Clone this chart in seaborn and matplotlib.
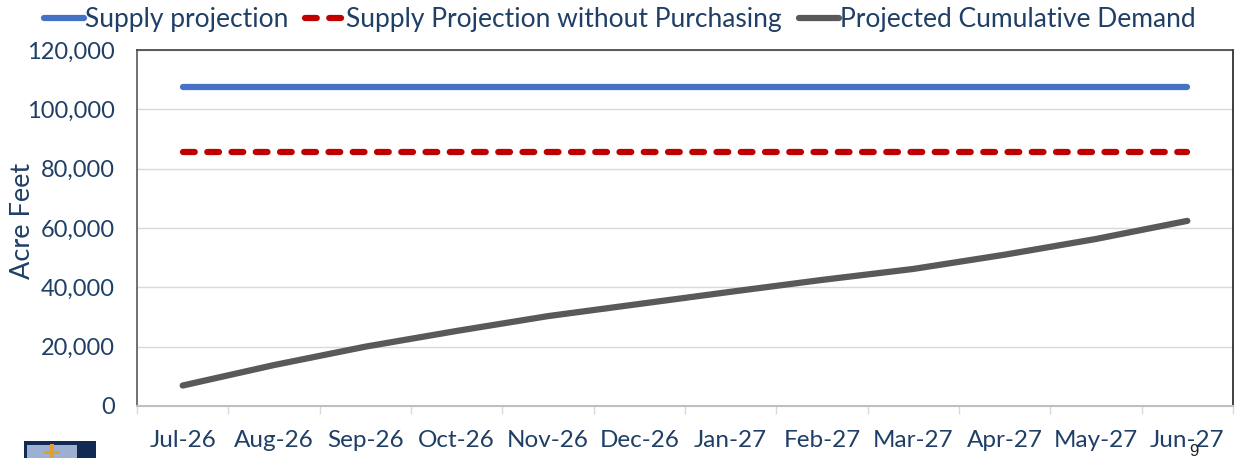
import numpy as np
import pandas as pd
import seaborn as sns
import matplotlib.pyplot as plt
from matplotlib.patches import Rectangle
from matplotlib.ticker import FuncFormatter

months = ["Jul-26", "Aug-26", "Sep-26", "Oct-26", "Nov-26", "Dec-26",
          "Jan-27", "Feb-27", "Mar-27", "Apr-27", "May-27", "Jun-27"]
supply = [107500] * 12
no_purchasing = [85700] * 12
demand = [6900, 13800, 20000, 25300, 30300, 34400,
          38500, 42500, 46200, 51000, 56300, 62400]

navy = "#1F3F66"

sns.set_theme(style="white")
plt.rcParams["font.family"] = ["Lato", "DejaVu Sans"]

df = pd.DataFrame({
    "month": months,
    "Supply projection": supply,
    "Supply Projection without Purchasing": no_purchasing,
    "Projected Cumulative Demand": demand,
})
x = np.arange(len(months))

fig = plt.figure(figsize=(12.35, 4.58), dpi=100)
ax = fig.add_axes([137 / 1235, 1 - 406 / 458, (1233 - 137) / 1235, (406 - 50) / 458])

sns.lineplot(x=x, y=df["Supply projection"], ax=ax, color="#4472C4", linewidth=4.5,
             solid_capstyle="round", label="Supply projection")
sns.lineplot(x=x, y=df["Supply Projection without Purchasing"], ax=ax, color="#C00000",
             linewidth=4.5, dashes=(1.88, 2.0), dash_capstyle="round",
             label="Supply Projection without Purchasing")
sns.lineplot(x=x, y=df["Projected Cumulative Demand"], ax=ax, color="#595959", linewidth=4.5,
             solid_capstyle="round", label="Projected Cumulative Demand")

ax.set_xlim(-0.5, 11.5)
ax.set_ylim(0, 120000)
ax.yaxis.set_major_formatter(FuncFormatter(lambda v, _: f"{v:,.0f}"))
ax.set_yticks(range(0, 120001, 20000))
ax.grid(axis="y", color="#D9D9D9", linewidth=1)
ax.set_axisbelow(True)

ax.set_xticks(x)
ax.set_xticklabels(months)
ax.set_xticks(np.arange(-0.5, 12), minor=True)
ax.tick_params(axis="x", which="major", length=0, pad=17, labelsize=17.5, labelcolor=navy)
ax.tick_params(axis="x", which="minor", length=6, width=1, color="#D9D9D9", bottom=True)
ax.tick_params(axis="y", length=0, pad=16, labelsize=17, labelcolor=navy)
ax.set_ylabel("Acre Feet", fontsize=19.5, color=navy)
ax.yaxis.set_label_coords((35 - 137) / (1233 - 137), (406 - 221) / (406 - 50))
ax.set_xlabel("")

ax.spines["left"].set_color("#595959")
ax.spines["left"].set_linewidth(1.2)
ax.spines["top"].set_color("#404040")
ax.spines["top"].set_linewidth(1.2)
ax.spines["right"].set_color("#202020")
ax.spines["right"].set_linewidth(1.2)
ax.spines["bottom"].set_color("#BFBFBF")
ax.spines["bottom"].set_linewidth(1.5)

ax.legend(loc="lower left", bbox_to_anchor=(44 / 1235, 1 - 32 / 458), bbox_transform=fig.transFigure,
          ncol=3, frameon=False, fontsize=19, labelcolor=navy, borderpad=0, borderaxespad=0,
          handlelength=1.5, handletextpad=0.05, columnspacing=0.65)

# page number and the corner of the logo under the chart
fig.text(1194 / 1235, 1 - 452 / 458, "9", fontsize=12, color="#222222", ha="center", va="center",
         family="Liberation Sans")
fig.add_artist(Rectangle((24 / 1235, 0), 72 / 1235, 17 / 458, transform=fig.transFigure,
                         facecolor="#102A54", edgecolor="none"))
fig.add_artist(Rectangle((27 / 1235, 0), 50 / 1235, 13 / 458, transform=fig.transFigure,
                         facecolor="#9DB0D2", edgecolor="none"))
fig.add_artist(Rectangle((50 / 1235, 0), 4 / 1235, 14 / 458, transform=fig.transFigure,
                         facecolor="#E0A030", edgecolor="none"))
fig.add_artist(Rectangle((44 / 1235, 4 / 458), 16 / 1235, 3 / 458, transform=fig.transFigure,
                         facecolor="#E0A030", edgecolor="none"))

fig.savefig("out.png", dpi=100)
